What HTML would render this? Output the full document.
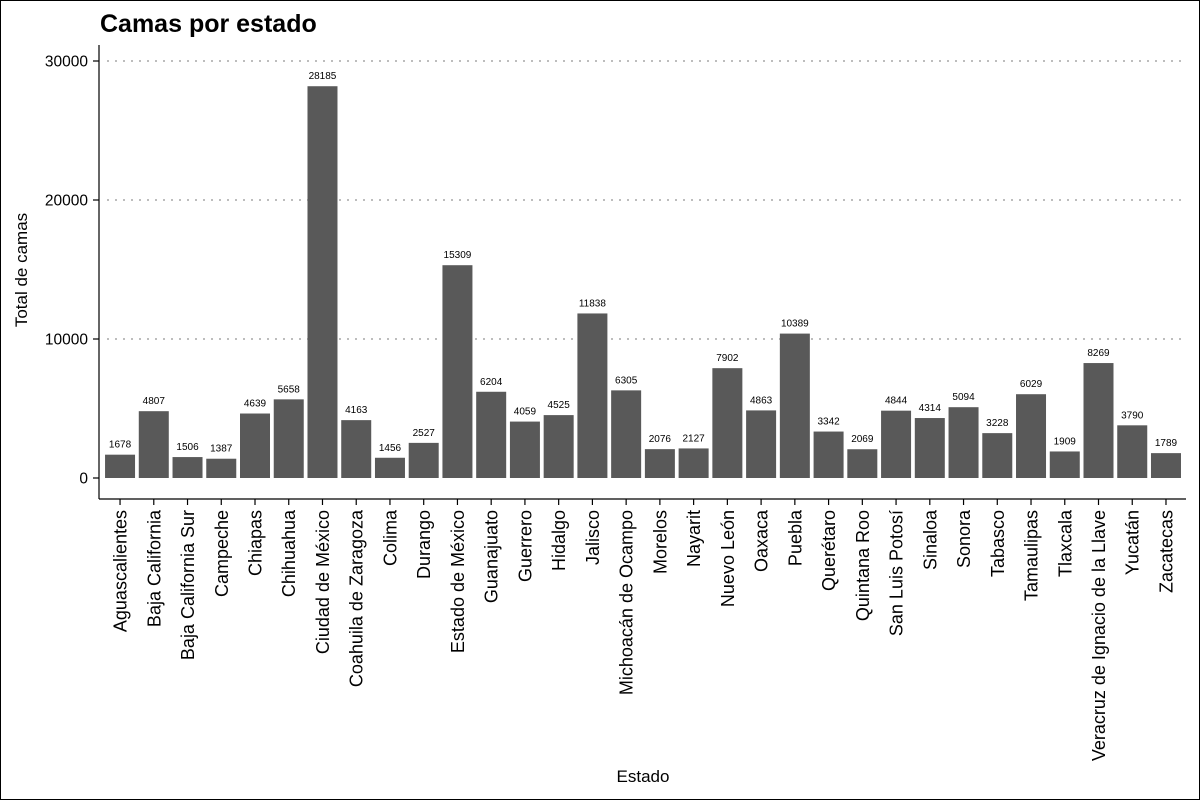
<!DOCTYPE html>
<html><head><meta charset="utf-8"><style>
body{margin:0;background:#fff}
svg{display:block;font-family:"Liberation Sans",Arial,sans-serif}
</style></head><body>
<svg id="chart" width="1200" height="800">
<rect x="0.5" y="0.5" width="1199" height="799" fill="#fff" stroke="#000"/>
<text x="100" y="32" font-size="25" font-weight="bold">Camas por estado</text>
<text transform="translate(27,270) rotate(-90)" text-anchor="middle" font-size="17">Total de camas</text>
<text x="643" y="782" text-anchor="middle" font-size="17">Estado</text>
<g id="grid"></g><g id="bars"></g><g id="axes"></g>
</svg>
<script>
const categories=["Aguascalientes","Baja California","Baja California Sur","Campeche","Chiapas","Chihuahua","Ciudad de México","Coahuila de Zaragoza","Colima","Durango","Estado de México","Guanajuato","Guerrero","Hidalgo","Jalisco","Michoacán de Ocampo","Morelos","Nayarit","Nuevo León","Oaxaca","Puebla","Querétaro","Quintana Roo","San Luis Potosí","Sinaloa","Sonora","Tabasco","Tamaulipas","Tlaxcala","Veracruz de Ignacio de la Llave","Yucatán","Zacatecas"];
const values=[1678,4807,1506,1387,4639,5658,28185,4163,1456,2527,15309,6204,4059,4525,11838,6305,2076,2127,7902,4863,10389,3342,2069,4844,4314,5094,3228,6029,1909,8269,3790,1789];
const yTicks=[0,10000,20000,30000];
const NS="http://www.w3.org/2000/svg";
const x0=99.8,step=33.74,bw=30,yBase=478,yScale=417/30000,axisY=499;
const xs=i=>x0+step*(i+0.6);
const ys=v=>yBase-v*yScale;
function mk(tag,attrs,parent){const e=document.createElementNS(NS,tag);for(const k in attrs)e.setAttribute(k,attrs[k]);parent.appendChild(e);return e;}
const grid=document.getElementById('grid'),bars=document.getElementById('bars'),axes=document.getElementById('axes');
yTicks.forEach(t=>{
 if(t>0){const g=mk('line',{x1:107,x2:1186,y1:ys(t),y2:ys(t),stroke:'#bdbdbd','stroke-width':2,'stroke-dasharray':'2,6'},grid);
 
 }
 const tk=mk('line',{x1:93,x2:99,y1:ys(t),y2:ys(t),stroke:'#000','stroke-width':1.2},axes);
 
 
 const tl=mk('text',{x:88,y:ys(t)+5.5,'text-anchor':'end','font-size':15.5},axes);
 tl.textContent=t;
 
 
});
const ax=mk('line',{x1:99,x2:99,y1:45,y2:axisY,stroke:'#000','stroke-width':1.2},axes);


const axx=mk('line',{x1:99,x2:1186,y1:axisY,y2:axisY,stroke:'#000','stroke-width':1.2},axes);


categories.forEach((c,i)=>{
 const cx=xs(i),v=values[i];
 const r=mk('rect',{x:cx-bw/2,y:ys(v),width:bw,height:yBase-ys(v),fill:'#595959'},bars);
 
 
 const vl=mk('text',{x:cx,y:ys(v)-7,'text-anchor':'middle','font-size':10},bars);
 vl.textContent=v;
 
 
 const tk=mk('line',{x1:cx,x2:cx,y1:axisY,y2:axisY+6,stroke:'#000','stroke-width':1.2},axes);
 
 
 const tl=mk('text',{transform:`translate(${cx+6.5},510) rotate(-90)`,'text-anchor':'end','font-size':18},axes);
 tl.textContent=c;
 
 
});
</script>
</body></html>
